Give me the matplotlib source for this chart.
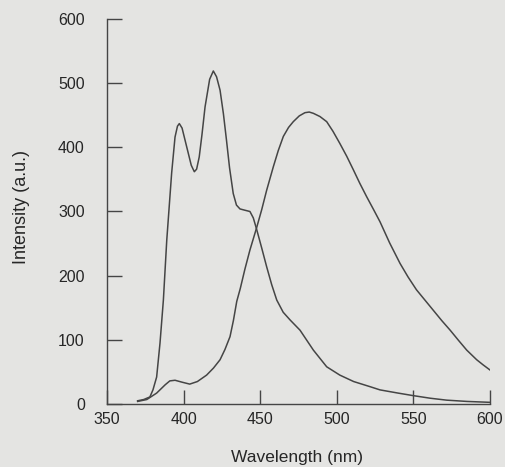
import matplotlib
matplotlib.use("Agg")
import matplotlib.pyplot as plt

# Spectrum with the two sharp peaks
wl_a = [370, 374, 378, 380, 382.4, 384.6, 386.8, 389, 392.2, 394.4, 396, 397.2, 399, 402,
        405, 407, 408.5, 410.2, 412, 414, 417, 419.4, 421.5, 423.8, 426, 428, 430, 432.4,
        434.5, 436.8, 440, 443.3, 445.5, 447.7, 451, 454.2, 457.5, 460.8, 465, 469.5, 476,
        484.7, 493.4, 502, 511, 521.7, 528.2, 540, 550, 561, 571.7, 585, 600]
int_a = [5, 7, 11, 22, 42, 95, 162, 255, 360, 416, 433, 437, 430, 401,
         372, 362, 366, 385, 420, 463, 506, 519, 510, 489, 452, 411, 368, 328,
         310, 304, 302, 300, 290, 272, 243, 214, 186, 162, 143, 131, 115,
         84, 58, 45, 35, 27, 22, 17, 13, 9, 6, 4, 2.6]

# Broad emission band
wl_b = [370, 376, 382.4, 388, 391, 394.4, 399, 404, 409, 415, 419.5, 423.8, 427, 430.3,
        432.5, 434.7, 437, 440, 443.3, 447.7, 451, 454.2, 458.6, 461.8, 465.1, 468.5,
        471.6, 475.5, 479.2, 482, 484.7, 489, 493.4, 497.5, 502, 506.5, 510.8, 515,
        519.5, 524, 528.2, 534.5, 541.3, 546.5, 552, 557.5, 563, 568.5, 574, 579.5,
        584.8, 591.3, 595.5, 600]
int_b = [4, 7, 17, 30, 36, 37, 34, 31, 35, 45, 56, 69, 85, 105,
         130, 160, 180, 210, 240, 275, 303, 333, 370, 395, 417, 431,
         440, 449, 454, 455, 453, 448, 440, 425, 406, 386, 365, 344,
         323, 303, 284, 251, 219, 198, 178, 162, 146, 130, 115, 99,
         84, 69, 61, 53]

x_ticks = [350, 400, 450, 500, 550, 600]
y_ticks = [0, 100, 200, 300, 400, 500, 600]

bg = "#e4e4e2"
ink = "#454545"
txt = "#262626"

plt.rcParams["font.family"] = ["Liberation Sans", "DejaVu Sans"]

fig = plt.figure(figsize=(5.05, 4.67), dpi=100, facecolor=bg)
ax = fig.add_axes([107 / 505, 1 - 404 / 467, 383 / 505, 385 / 467])
ax.set_facecolor(bg)

ax.plot(wl_a, int_a, color=ink, lw=1.1)
ax.plot(wl_b, int_b, color=ink, lw=1.1)

ax.set_xlim(350, 600)
ax.set_ylim(0, 600)
ax.set_xticks(x_ticks)
ax.set_yticks(y_ticks)

for side in ["top", "right"]:
    ax.spines[side].set_visible(False)
for side in ["left", "bottom"]:
    ax.spines[side].set_color(ink)
    ax.spines[side].set_linewidth(1.0)

ax.tick_params(axis="y", direction="in", length=10.8, width=1.0, color=ink,
               labelsize=11.5, labelcolor=txt, pad=16)
ax.tick_params(axis="x", direction="in", length=10, width=1.0, color=ink,
               labelsize=11.5, labelcolor=txt, pad=6)

ax.set_xlabel("Wavelength (nm)", fontsize=12.5, color=txt)
ax.set_ylabel("Intensity (a.u.)", fontsize=13, color=txt)
ax.xaxis.set_label_coords(0.495, -0.119)
ax.yaxis.set_label_coords(-0.20, 0.512)

fig.savefig("out.png", dpi=100, facecolor=bg)
